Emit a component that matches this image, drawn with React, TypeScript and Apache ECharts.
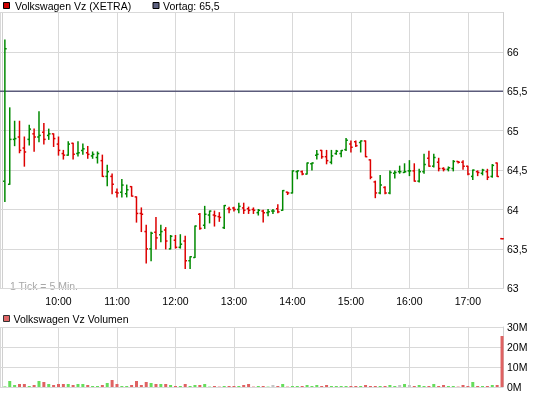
import { useEffect, useRef } from 'react';
import * as echarts from 'echarts';

// ---- data ----
const FIRST_BAR = '09:05';
const BAR_MINUTES = 5;
const PREV_CLOSE = 65.5;

const OPEN = [
  64.36, 64.32, 64.89, 64.92, 64.78, 64.89, 64.96, 64.92, 64.98, 64.94,
  64.96, 64.83, 64.71, 64.69, 64.84, 64.71, 64.75, 64.72, 64.68, 64.66,
  64.62, 64.42, 64.42, 64.22, 64.22, 64.20, 64.29, 64.16, 63.95, 63.72,
  63.50, 63.71, 63.68, 63.74, 63.50, 63.61, 63.52, 63.60, 63.35, 63.39,
  63.94, 63.80, 63.93, 63.93, 63.91, 63.77, 64.01, 64.02, 64.00, 64.02,
  64.01, 64.00, 63.96, 63.98, 63.96, 63.98, 64.01, 63.99, 64.22, 64.21,
  64.48, 64.48, 64.45, 64.58, 64.69, 64.75, 64.67, 64.60, 64.71, 64.71,
  64.76, 64.83, 64.86, 64.85, 64.87, 64.63, 64.35, 64.21, 64.28, 64.21,
  64.46, 64.48, 64.47, 64.49, 64.49, 64.36, 64.48, 64.65, 64.55, 64.60,
  64.52, 64.51, 64.52, 64.61, 64.60, 64.55, 64.42, 64.48, 64.46, 64.48,
  64.42, 64.59, 63.63,
];
const HIGH = [
  66.15, 65.29, 65.12, 65.12, 64.92, 65.07, 65.02, 65.24, 65.09, 65.02,
  64.96, 64.92, 64.75, 64.86, 64.84, 64.86, 64.83, 64.80, 64.73, 64.73,
  64.69, 64.56, 64.45, 64.26, 64.38, 64.31, 64.29, 64.16, 64.02, 63.80,
  63.71, 63.90, 63.80, 63.77, 63.67, 63.67, 63.68, 63.66, 63.40, 63.79,
  63.95, 64.04, 63.98, 63.98, 63.96, 64.05, 64.03, 64.03, 64.08, 64.08,
  64.03, 64.02, 64.00, 63.99, 64.00, 64.00, 64.06, 64.24, 64.22, 64.49,
  64.49, 64.49, 64.59, 64.59, 64.75, 64.75, 64.75, 64.75, 64.75, 64.75,
  64.90, 64.87, 64.87, 64.87, 64.87, 64.63, 64.36, 64.43, 64.29, 64.49,
  64.49, 64.55, 64.58, 64.62, 64.58, 64.51, 64.70, 64.74, 64.70, 64.65,
  64.53, 64.54, 64.62, 64.61, 64.62, 64.55, 64.50, 64.49, 64.51, 64.51,
  64.57, 64.59, 63.63,
];
const LOW = [
  64.10, 64.32, 64.81, 64.72, 64.55, 64.82, 64.74, 64.86, 64.83, 64.89,
  64.80, 64.69, 64.64, 64.69, 64.64, 64.68, 64.70, 64.65, 64.65, 64.59,
  64.42, 64.30, 64.20, 64.16, 64.16, 64.16, 64.17, 63.84, 63.72, 63.32,
  63.35, 63.50, 63.59, 63.50, 63.50, 63.51, 63.51, 63.25, 63.25, 63.39,
  63.75, 63.76, 63.83, 63.79, 63.85, 63.76, 63.96, 63.98, 63.96, 63.95,
  63.95, 63.95, 63.93, 63.84, 63.92, 63.95, 63.96, 63.99, 64.19, 64.21,
  64.39, 64.44, 64.45, 64.50, 64.64, 64.65, 64.58, 64.58, 64.70, 64.67,
  64.75, 64.73, 64.80, 64.73, 64.67, 64.39, 64.15, 64.20, 64.20, 64.20,
  64.40, 64.46, 64.47, 64.43, 64.36, 64.35, 64.46, 64.55, 64.54, 64.49,
  64.49, 64.49, 64.49, 64.59, 64.51, 64.44, 64.38, 64.43, 64.44, 64.38,
  64.41, 64.42, 63.63,
];
const CLOSE = [
  66.04, 64.89, 64.90, 64.75, 64.73, 65.02, 64.92, 64.94, 64.89, 64.96,
  64.90, 64.75, 64.69, 64.83, 64.70, 64.72, 64.77, 64.70, 64.70, 64.71,
  64.42, 64.48, 64.32, 64.21, 64.31, 64.25, 64.17, 63.95, 63.94, 63.50,
  63.70, 63.64, 63.72, 63.60, 63.66, 63.52, 63.56, 63.35, 63.40, 63.79,
  63.76, 63.94, 63.98, 63.92, 63.90, 64.05, 64.00, 64.00, 64.04, 63.99,
  63.99, 63.99, 63.99, 63.96, 63.97, 63.98, 63.97, 64.24, 64.21, 64.49,
  64.49, 64.45, 64.59, 64.59, 64.70, 64.67, 64.62, 64.68, 64.74, 64.75,
  64.88, 64.79, 64.81, 64.87, 64.67, 64.41, 64.21, 64.31, 64.21, 64.47,
  64.47, 64.48, 64.48, 64.49, 64.36, 64.48, 64.57, 64.55, 64.66, 64.52,
  64.51, 64.53, 64.61, 64.60, 64.55, 64.45, 64.50, 64.47, 64.50, 64.41,
  64.56, 64.42, 63.63,
];
// volume in millions of shares
const VOLUME = [
  0.3, 3.0, 1.0, 1.5, 1.5, 0.5, 1.0, 3.0, 2.5, 1.5,
  1.0, 1.5, 1.5, 1.5, 1.0, 1.5, 1.5, 1.0, 0.5, 0.5,
  1.0, 2.0, 3.5, 1.5, 0.5, 0.5, 1.0, 3.0, 1.0, 2.5,
  2.0, 1.5, 1.5, 1.5, 1.0, 0.5, 0.5, 1.5, 0.5, 1.0,
  1.0, 1.5, 0.2, 0.5, 0.2, 0.5, 0.5, 0.5, 0.5, 1.0,
  1.5, 0.2, 0.5, 0.5, 0.2, 1.0, 0.5, 1.5, 0.2, 0.5,
  0.5, 0.5, 1.0, 0.5, 1.0, 0.5, 1.0, 0.5, 0.5, 0.5,
  0.5, 0.5, 0.5, 0.5, 1.0, 0.5, 0.5, 0.5, 0.5, 1.0,
  0.5, 1.0, 1.5, 1.0, 0.5, 1.0, 0.5, 0.5, 1.5, 0.5,
  1.0, 0.5, 0.5, 0.2, 1.0, 0.5, 2.5, 0.5, 0.5, 0.5,
  1.0, 1.0, 25.5,
];

const UP = '#008a00';
const DOWN = '#dd0000';
const VOL_UP = '#66dd5c';
const VOL_DOWN = '#df6262';
const VOL_FLAT = '#c4c4c4';
const GRID_LINE = '#d9d9d9';
const FONT = '"Liberation Sans", Arial, sans-serif';

function toMin(t: string) {
  const [h, m] = t.split(':').map(Number);
  return h * 60 + m;
}
function fmtMin(v: number) {
  const h = Math.floor(v / 60);
  const m = Math.round(v % 60);
  return `${h < 10 ? '0' + h : h}:${m < 10 ? '0' + m : m}`;
}
function direction(i: number) {
  if (CLOSE[i] > OPEN[i]) return 1;
  if (CLOSE[i] < OPEN[i]) return -1;
  const prev = i > 0 ? CLOSE[i - 1] : PREV_CLOSE;
  return CLOSE[i] >= prev ? 1 : -1;
}

export default function App() {
  const ref = useRef<HTMLDivElement>(null);
  useEffect(() => {
    if (!ref.current) return;
    const chart = echarts.init(ref.current, undefined, { renderer: 'svg' });
    const start = toMin(FIRST_BAR);
    const xs = OPEN.map((_, i) => start + i * BAR_MINUTES);
    const ohlc = OPEN.map((o, i) => [xs[i], o, HIGH[i], LOW[i], CLOSE[i], direction(i)]);
    const vols = VOLUME.map((v, i) => {
      const flat = OPEN[i] === CLOSE[i] && HIGH[i] !== LOW[i];
      const color = flat ? VOL_FLAT : direction(i) > 0 ? VOL_UP : VOL_DOWN;
      return { value: [xs[i], v], itemStyle: { color } };
    });
    const xMin = 540;
    const xMax = 1056;
    const labelStyle = { color: '#000', fontSize: 10.5, fontFamily: FONT };

    chart.setOption({
      animation: false,
      grid: [
        { left: 0, right: 42, top: 12.5, height: 275.8 },
        { left: 0, right: 42, top: 327, height: 60 },
      ],
      xAxis: [
        {
          type: 'value', gridIndex: 0, min: xMin, max: xMax, interval: 60,
          axisLine: { show: false }, axisTick: { show: false },
          axisLabel: { ...labelStyle, margin: 7, showMinLabel: false, showMaxLabel: false, formatter: (v: number) => fmtMin(v) },
          splitLine: { show: true, lineStyle: { color: GRID_LINE, width: 1 } },
        },
        {
          type: 'value', gridIndex: 1, min: xMin, max: xMax, interval: 60,
          axisLine: { show: false }, axisTick: { show: false },
          axisLabel: { show: false },
          splitLine: { show: true, lineStyle: { color: GRID_LINE, width: 1 } },
        },
      ],
      yAxis: [
        {
          type: 'value', gridIndex: 0, position: 'right', min: 63, max: 66.5, interval: 0.5,
          axisLine: { show: true, lineStyle: { color: '#cfcfcf' } }, axisTick: { show: false },
          axisLabel: { ...labelStyle, margin: 4, showMaxLabel: false, formatter: (v: number) => String(v).replace('.', ',') },
          splitLine: { show: true, lineStyle: { color: GRID_LINE, width: 1 } },
        },
        {
          type: 'value', gridIndex: 1, position: 'right', min: 0, max: 30, interval: 10,
          axisLine: { show: true, lineStyle: { color: '#cfcfcf' } }, axisTick: { show: false },
          axisLabel: { ...labelStyle, margin: 4, formatter: (v: number) => `${v}M` },
          splitLine: { show: true, lineStyle: { color: GRID_LINE, width: 1 } },
        },
      ],
      series: [
        {
          type: 'line', xAxisIndex: 0, yAxisIndex: 0, silent: true,
          data: [[xMin, PREV_CLOSE], [xMax, PREV_CLOSE]],
          symbol: 'none', lineStyle: { color: '#5b5b7b', width: 1.4 }, z: 1,
        },
        {
          type: 'custom', xAxisIndex: 0, yAxisIndex: 0, data: ohlc, z: 3,
          encode: { x: 0, y: [1, 2, 3, 4] },
          renderItem: (_p: any, api: any) => {
            const x = api.value(0);
            const pO = api.coord([x, api.value(1)]);
            const pH = api.coord([x, api.value(2)]);
            const pL = api.coord([x, api.value(3)]);
            const pC = api.coord([x, api.value(4)]);
            const color = api.value(5) > 0 ? UP : DOWN;
            const cx = pH[0];
            const style = { stroke: color, lineWidth: 1.5 };
            return {
              type: 'group',
              children: [
                { type: 'line', shape: { x1: cx, y1: pH[1] - 0.5, x2: cx, y2: pL[1] + 0.5 }, style },
                { type: 'line', shape: { x1: cx - 1.8, y1: pO[1], x2: cx, y2: pO[1] }, style },
                { type: 'line', shape: { x1: cx, y1: pC[1], x2: cx + 1.8, y2: pC[1] }, style },
              ],
            };
          },
        },
        {
          type: 'bar', xAxisIndex: 1, yAxisIndex: 1, data: vols, barWidth: 3,
        },
      ],
      graphic: [
        { type: 'line', shape: { x1: 2.5, y1: 12.5, x2: 2.5, y2: 288.3 }, style: { stroke: '#cfcfcf', lineWidth: 1 } },
        { type: 'line', shape: { x1: 2.5, y1: 327, x2: 2.5, y2: 387 }, style: { stroke: '#cfcfcf', lineWidth: 1 } },
        { type: 'rect', shape: { x: 3.5, y: 2.5, width: 6, height: 6 }, style: { fill: '#cc0000', stroke: '#000', lineWidth: 1 } },
        { type: 'text', x: 15, y: 6, style: { text: 'Volkswagen Vz (XETRA)', fill: '#000', font: `10.5px ${FONT}`, verticalAlign: 'middle' } },
        { type: 'rect', shape: { x: 153, y: 2.5, width: 6, height: 6 }, style: { fill: '#5e6280', stroke: '#000', lineWidth: 1 } },
        { type: 'text', x: 163, y: 6, style: { text: 'Vortag: 65,5', fill: '#000', font: `10.5px ${FONT}`, verticalAlign: 'middle' } },
        { type: 'text', x: 10, y: 286, style: { text: '1 Tick = 5 Min.', fill: '#a8a8a8', font: `10.5px ${FONT}`, verticalAlign: 'middle' } },
        { type: 'rect', shape: { x: 3.5, y: 315.5, width: 6, height: 6 }, style: { fill: '#e06666', stroke: '#333', lineWidth: 1 } },
        { type: 'text', x: 13.5, y: 319, style: { text: 'Volkswagen Vz Volumen', fill: '#000', font: `10.5px ${FONT}`, verticalAlign: 'middle' } },
      ],
    });
    return () => chart.dispose();
  }, []);
  return <div ref={ref} style={{ position: 'fixed', left: 0, top: 0, width: 545, height: 395 }} />;
}
